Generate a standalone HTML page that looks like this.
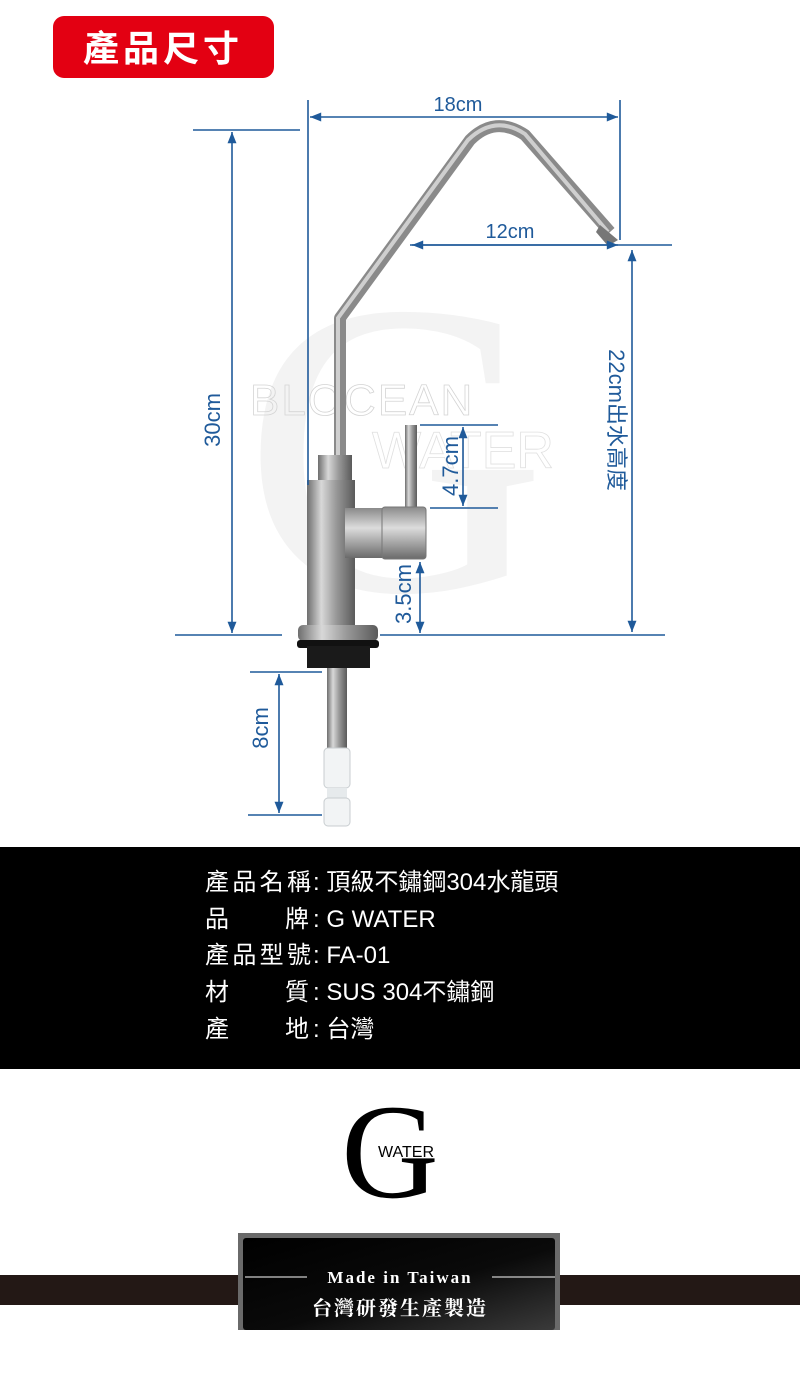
<!DOCTYPE html>
<html><head><meta charset="utf-8"><style>
html,body{margin:0;padding:0;background:#fff}
body{width:800px;height:1377px;overflow:hidden;position:relative;font-family:"Liberation Sans","Noto Sans CJK TC",sans-serif}
</style></head><body>
<svg width="800" height="1377" viewBox="0 0 800 1377" xmlns="http://www.w3.org/2000/svg" style="position:absolute;left:0;top:0">
<defs>
<linearGradient id="steel" x1="0" x2="1">
<stop offset="0" stop-color="#6e6e6e"/><stop offset="0.3" stop-color="#d8d8d8"/><stop offset="0.6" stop-color="#9a9a9a"/><stop offset="1" stop-color="#5a5a5a"/>
</linearGradient>
<linearGradient id="steelv" x1="0" y1="0" x2="0" y2="1">
<stop offset="0" stop-color="#8a8a8a"/><stop offset="0.4" stop-color="#dcdcdc"/><stop offset="1" stop-color="#6a6a6a"/>
</linearGradient>
<linearGradient id="box" x1="0" y1="0" x2="1" y2="1">
<stop offset="0" stop-color="#000"/><stop offset="0.55" stop-color="#0a0a0a"/><stop offset="1" stop-color="#3a3a3a"/>
</linearGradient>
<marker id="ar" viewBox="0 0 10 10" refX="10" refY="5" markerWidth="9" markerHeight="7" orient="auto-start-reverse"><path d="M0,1 L10,5 L0,9 Z" fill="#1f5a9a"/></marker>
</defs>

<rect x="53" y="16" width="221" height="62" rx="11" fill="#e30012"/>
<text x="163" y="61" font-size="36" font-weight="bold" fill="#fff" text-anchor="middle" letter-spacing="4" font-family="Noto Sans CJK TC,sans-serif">產品尺寸</text>

<text x="395" y="590" font-size="420" fill="#f3f3f3" text-anchor="middle" font-family="Liberation Serif,serif">G</text>
<text x="250" y="415" font-size="44" fill="none" stroke="#d4d4d4" stroke-width="0.8" font-family="Liberation Sans,sans-serif" letter-spacing="2">BLOCEAN</text>
<text x="372" y="468" font-size="52" fill="none" stroke="#e0e0e0" stroke-width="0.8" font-family="Liberation Sans,sans-serif">WATER</text>

<path d="M340,462 L340,318 L470,140 Q495,115 525,135 L610,232" fill="none" stroke="#8a8a8a" stroke-width="12" stroke-linejoin="round"/>
<path d="M338,462 L338,318 L468,140 Q495,114 525,134 L608,232" fill="none" stroke="#cfcfcf" stroke-width="4"/>
<path d="M600,225 L618,240 L608,246 L596,232Z" fill="#777"/>
<rect x="405" y="425" width="12" height="85" fill="url(#steel)"/>
<rect x="318" y="455" width="34" height="30" fill="url(#steel)"/>
<rect x="307" y="480" width="48" height="150" fill="url(#steel)"/>
<rect x="345" y="508" width="45" height="50" fill="url(#steelv)"/>
<rect x="382" y="507" width="44" height="52" rx="3" fill="url(#steelv)" stroke="#777" stroke-width="1"/>
<rect x="298" y="625" width="80" height="16" rx="5" fill="url(#steel)"/>
<rect x="297" y="640" width="82" height="8" rx="3" fill="#111"/>
<rect x="307" y="646" width="63" height="22" fill="#1a1a1a"/>
<rect x="327" y="668" width="20" height="80" fill="url(#steel)"/>
<rect x="324" y="748" width="26" height="40" rx="4" fill="#f2f4f5" stroke="#c8cdd0"/>
<rect x="327" y="788" width="20" height="12" fill="#e6eaec"/>
<rect x="324" y="798" width="26" height="28" rx="4" fill="#f2f4f5" stroke="#c8cdd0"/>

<g stroke="#1f5a9a" stroke-width="1.6" fill="none">
<line x1="308" y1="100" x2="308" y2="485"/>
<line x1="620" y1="100" x2="620" y2="240"/>
<line x1="310" y1="117" x2="618" y2="117" marker-start="url(#ar)" marker-end="url(#ar)"/>
<line x1="193" y1="130" x2="300" y2="130"/>
<line x1="175" y1="635" x2="282" y2="635"/>
<line x1="232" y1="132" x2="232" y2="633" marker-start="url(#ar)" marker-end="url(#ar)"/>
<line x1="410" y1="245" x2="672" y2="245"/>
<line x1="412" y1="245" x2="618" y2="245" marker-start="url(#ar)" marker-end="url(#ar)"/>
<line x1="632" y1="250" x2="632" y2="632" marker-start="url(#ar)" marker-end="url(#ar)"/>
<line x1="380" y1="635" x2="665" y2="635"/>
<line x1="420" y1="425" x2="498" y2="425"/>
<line x1="430" y1="508" x2="498" y2="508"/>
<line x1="463" y1="427" x2="463" y2="506" marker-start="url(#ar)" marker-end="url(#ar)"/>
<line x1="420" y1="562" x2="420" y2="633" marker-start="url(#ar)" marker-end="url(#ar)"/>
<line x1="250" y1="672" x2="322" y2="672"/>
<line x1="248" y1="815" x2="322" y2="815"/>
<line x1="279" y1="674" x2="279" y2="813" marker-start="url(#ar)" marker-end="url(#ar)"/>
</g>
<g fill="#1f5a9a" font-size="22" font-family="Liberation Sans,sans-serif">
<text x="458" y="111" text-anchor="middle" font-size="20">18cm</text>
<text x="510" y="238" text-anchor="middle" font-size="20">12cm</text>
<text transform="translate(220,420) rotate(-90)" text-anchor="middle">30cm</text>
<text transform="translate(458,466) rotate(-90)" text-anchor="middle">4.7cm</text>
<text transform="translate(411,594) rotate(-90)" text-anchor="middle">3.5cm</text>
<text transform="translate(268,728) rotate(-90)" text-anchor="middle">8cm</text>
<text transform="translate(609,420) rotate(90)" text-anchor="middle" font-family="Liberation Sans,Noto Sans CJK TC,sans-serif">22cm出水高度</text>
</g>

<rect x="0" y="847" width="800" height="222" fill="#000"/>
<g fill="#fff" font-size="24" font-family="Liberation Sans Narrow,Liberation Sans,Noto Sans CJK TC,sans-serif">
<text x="205" y="890" textLength="106">產品名稱</text><text x="313" y="890">: 頂級不鏽鋼304水龍頭</text>
<text x="205" y="927">品</text><text x="285" y="927">牌</text><text x="313" y="927">: G WATER</text>
<text x="205" y="963" textLength="106">產品型號</text><text x="313" y="963">: FA-01</text>
<text x="205" y="1000">材</text><text x="285" y="1000">質</text><text x="313" y="1000">: SUS 304不鏽鋼</text>
<text x="205" y="1037">產</text><text x="285" y="1037">地</text><text x="313" y="1037">: 台灣</text>
</g>

<text x="390" y="1197" font-size="135" fill="#000" text-anchor="middle" font-family="Liberation Serif,serif">G</text>
<text x="378" y="1157" font-size="16" fill="#000" font-family="Liberation Sans,sans-serif">WATER</text>

<rect x="0" y="1275" width="800" height="30" fill="#231815"/>
<rect x="238" y="1233" width="322" height="97" fill="#6a6a6a"/>
<rect x="243" y="1238" width="312" height="92" rx="3" fill="url(#box)"/>
<line x1="245" y1="1277" x2="307" y2="1277" stroke="#ccc" stroke-width="1.2"/>
<line x1="492" y1="1277" x2="555" y2="1277" stroke="#ccc" stroke-width="1.2"/>
<text x="400" y="1283" font-size="17" fill="#fff" text-anchor="middle" font-weight="bold" letter-spacing="2" font-family="Liberation Serif,serif">Made in Taiwan</text>
<text x="400" y="1315" font-size="20" fill="#fff" text-anchor="middle" font-weight="bold" letter-spacing="2" font-family="Noto Serif CJK SC,serif">台灣研發生產製造</text>
</svg>
</body></html>
